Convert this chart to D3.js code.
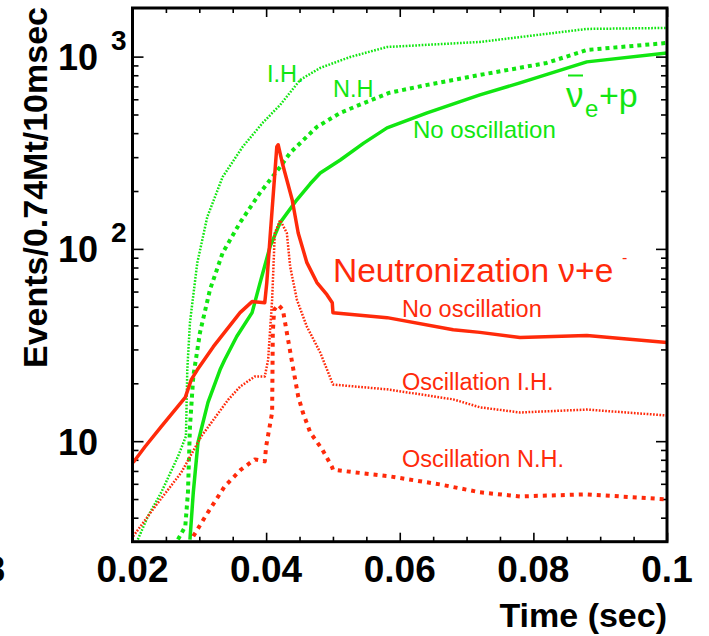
<!DOCTYPE html>
<html>
<head>
<meta charset="utf-8">
<script src="https://cdn.jsdelivr.net/npm/d3@7"></script>
<style>
html,body{margin:0;padding:0;background:#fff;}
svg{display:block;font-family:"Liberation Sans",Arial,Helvetica,sans-serif;}
</style>
</head>
<body>
<svg id="chart" width="709" height="636"></svg>
<script>
// ---- data (time in sec, events per 10 msec) ----
const greenNoOsc = [[0.0286,3.08],[0.0291,5.41],[0.0298,9.84],[0.0313,15.9],[0.0331,23.5],[0.0338,26.5],[0.0356,35],[0.0379,46.6],[0.0391,66.8],[0.0406,103],[0.0421,137],[0.0446,180],[0.0466,218],[0.0481,248],[0.0511,290],[0.0546,355],[0.0581,426],[0.0641,510],[0.072,632],[0.078,730],[0.088,939],[0.1,1045]];
const greenNH = [[0.0268,3.08],[0.0279,3.6],[0.0283,5.41],[0.0286,11.9],[0.0291,21.7],[0.0301,36.7],[0.0316,61.4],[0.0335,95.5],[0.0361,137],[0.0391,196],[0.0421,267],[0.0436,316],[0.0476,431],[0.0511,510],[0.0551,582],[0.0585,649],[0.0641,713],[0.072,803],[0.082,927],[0.088,1083],[0.1,1178]];
const greenIH = [[0.0208,3.08],[0.0223,4.06],[0.0243,5.41],[0.0268,8.32],[0.028,10.6],[0.0282,23.5],[0.0286,41.4],[0.0297,84.8],[0.0312,147],[0.0335,237],[0.0365,340],[0.0395,453],[0.0421,561],[0.0451,757],[0.0481,874],[0.0526,996],[0.0581,1122],[0.072,1192],[0.088,1393],[0.1,1410]];
const redNoOsc = [[0.0201,7.74],[0.0219,9.38],[0.0243,11.9],[0.0279,16.9],[0.0288,20.9],[0.0297,23.5],[0.0321,31],[0.0361,46.6],[0.0379,53.2],[0.0398,52.5],[0.0401,66.8],[0.0406,116],[0.0416,340],[0.0418,348],[0.0425,273],[0.0439,180],[0.0448,121],[0.0461,84.8],[0.0476,66.8],[0.0491,57.8],[0.0499,52.5],[0.05,46.6],[0.0581,43.9],[0.068,38.0],[0.072,36.8],[0.078,34.6],[0.088,35.4],[0.1,32.6]];
const redIH = [[0.0201,3.2],[0.0234,4.58],[0.0273,6.87],[0.0303,10.6],[0.0343,16.4],[0.0361,19.2],[0.0383,21.7],[0.0398,21.7],[0.0403,26.5],[0.0409,54.5],[0.0413,121],[0.0421,141],[0.0431,121],[0.0436,80.8],[0.0446,54.5],[0.0461,39.4],[0.0481,28.9],[0.05,19.7],[0.0581,18.6],[0.068,16.5],[0.072,15.0],[0.078,14.1],[0.088,14.6],[0.1,13.6]];
const redNH = [[0.0291,3.2],[0.0309,4.06],[0.0338,5.82],[0.0362,7.1],[0.0383,8.04],[0.0398,7.85],[0.04,9.38],[0.0409,14.1],[0.041,36.7],[0.0412,48.3],[0.0418,51.2],[0.0425,48.3],[0.0431,36.7],[0.044,24.4],[0.0448,17.1],[0.0455,14.1],[0.0466,11.1],[0.0484,9.06],[0.0499,7.3],[0.05,7.1],[0.0585,6.56],[0.066,5.96],[0.072,5.42],[0.078,5.16],[0.088,5.29],[0.1,4.98]];

const xMajorTicks = [0.02,0.04,0.06,0.08,0.1];
const xTickLabels = ["0.02","0.04","0.06","0.08","0.1"];
const yMajorTicks = [10,100,1000];
const yTickBase = ["10","10","10"];
const yTickExp = ["","2","3"];
const xTitle = "Time (sec)";
const yTitle = "Events/0.74Mt/10msec";

const GREEN = "#11e611";
const RED = "#ff2a0a";

const svg = d3.select("#chart");
const L = 132.5, R = 667, T = 8, B = 541.7;
const x = d3.scaleLinear().domain([0.02,0.1]).range([L,R]);
const y = d3.scaleLog().domain([3,1790]).range([B,T]);

// minor ticks
const xMinor = d3.range(0.02,0.1001,0.005).filter(v => !xMajorTicks.some(m => Math.abs(m-v)<1e-6));
const yMinor = [];
[1,10,100,1000].forEach(d => { for (let k=2;k<=9;k++){ const v=d*k; if (v>=3 && v<=1790) yMinor.push(v);} });

const axG = svg.append("g");
function drawAxis(gen, tr){
  const g = axG.append("g").attr("transform",tr).call(gen);
  g.select(".domain").remove();
  g.selectAll("text").remove();
  g.selectAll("line").attr("stroke","#000").attr("stroke-width",1.6);
  return g;
}
drawAxis(d3.axisBottom(x).tickValues(xMajorTicks).tickSize(-9), `translate(0,${B})`);
drawAxis(d3.axisBottom(x).tickValues(xMinor).tickSize(-5), `translate(0,${B})`);
drawAxis(d3.axisTop(x).tickValues(xMajorTicks).tickSize(-9), `translate(0,${T})`);
drawAxis(d3.axisTop(x).tickValues(xMinor).tickSize(-5), `translate(0,${T})`);
drawAxis(d3.axisLeft(y).tickValues(yMajorTicks).tickSize(-11), `translate(${L},0)`);
drawAxis(d3.axisLeft(y).tickValues(yMinor).tickSize(-6), `translate(${L},0)`);
drawAxis(d3.axisRight(y).tickValues(yMajorTicks).tickSize(-11), `translate(${R},0)`);
drawAxis(d3.axisRight(y).tickValues(yMinor).tickSize(-6), `translate(${R},0)`);

// curves
svg.append("defs").append("clipPath").attr("id","clip")
  .append("rect").attr("x",L).attr("y",T).attr("width",R-L).attr("height",B-T);
const line = d3.line().x(d => x(d[0])).y(d => y(d[1]));
const curves = svg.append("g").attr("clip-path","url(#clip)").attr("fill","none")
  .attr("stroke-linejoin","round");
const series = [
  {d: greenIH, c: GREEN, w: 2.5, dash: "1.7,1.5"},
  {d: greenNH, c: GREEN, w: 4, dash: "4,4"},
  {d: greenNoOsc, c: GREEN, w: 3.5, dash: null},
  {d: redIH, c: RED, w: 2.5, dash: "1.7,1.5"},
  {d: redNH, c: RED, w: 4, dash: "4,5"},
  {d: redNoOsc, c: RED, w: 3.5, dash: null}
];
series.forEach(s => {
  curves.append("path").datum(s.d).attr("d", line)
    .attr("stroke", s.c).attr("stroke-width", s.w)
    .attr("stroke-dasharray", s.dash);
});

// frame
svg.append("rect").attr("x",L).attr("y",T).attr("width",R-L).attr("height",B-T)
  .attr("fill","none").attr("stroke","#000").attr("stroke-width",3);

// x tick labels
svg.append("g").selectAll("text").data(xMajorTicks).join("text")
  .attr("x", d => x(d)).attr("y", 582).attr("text-anchor","middle")
  .attr("font-size",37).attr("font-weight","bold").text((d,i) => xTickLabels[i]);
svg.append("text").attr("x",5).attr("y",582).attr("text-anchor","end")
  .attr("font-size",37).attr("font-weight","bold").text("8");

// y tick labels
const yl = svg.append("g");
yMajorTicks.forEach((v,i) => {
  yl.append("text").attr("x",98).attr("y",y(v)+13.5).attr("text-anchor","end")
    .attr("font-size",36).attr("font-weight","bold").text(yTickBase[i]);
  if (yTickExp[i]) yl.append("text").attr("x",111).attr("y",y(v)-7)
    .attr("font-size",28).attr("font-weight","bold").text(yTickExp[i]);
});

// axis titles
svg.append("text").attr("x",667).attr("y",627).attr("text-anchor","end")
  .attr("font-size",34).attr("font-weight","bold").text(xTitle);
svg.append("text").attr("transform","translate(46.5,368) rotate(-90)")
  .attr("font-size",34).attr("font-weight","bold").text(yTitle);

// annotations
const ann = svg.append("g");
ann.append("text").attr("x",267).attr("y",82).attr("fill",GREEN).attr("font-size",23.5).text("I.H.");
ann.append("text").attr("x",333).attr("y",97).attr("fill",GREEN).attr("font-size",23.5).text("N.H");
ann.append("text").attr("x",413).attr("y",138).attr("fill",GREEN).attr("font-size",24).text("No oscillation");
ann.append("text").attr("x",566).attr("y",107).attr("fill",GREEN).attr("font-size",35).text("ν");
ann.append("line").attr("x1",568).attr("x2",583).attr("y1",75.5).attr("y2",75.5).attr("stroke",GREEN).attr("stroke-width",2);
ann.append("text").attr("x",585).attr("y",117).attr("fill",GREEN).attr("font-size",24).text("e");
ann.append("text").attr("x",599).attr("y",107).attr("fill",GREEN).attr("font-size",34).text("+p");

ann.append("text").attr("x",333).attr("y",282).attr("fill",RED).attr("font-size",33.5).text("Neutronization ν+e");
ann.append("text").attr("x",622).attr("y",263).attr("fill",RED).attr("font-size",16).text("-");
ann.append("text").attr("x",402).attr("y",317).attr("fill",RED).attr("font-size",23.5).text("No oscillation");
ann.append("text").attr("x",402).attr("y",390).attr("fill",RED).attr("font-size",23.5).text("Oscillation I.H.");
ann.append("text").attr("x",402).attr("y",467).attr("fill",RED).attr("font-size",23.5).text("Oscillation N.H.");
</script>
</body>
</html>
